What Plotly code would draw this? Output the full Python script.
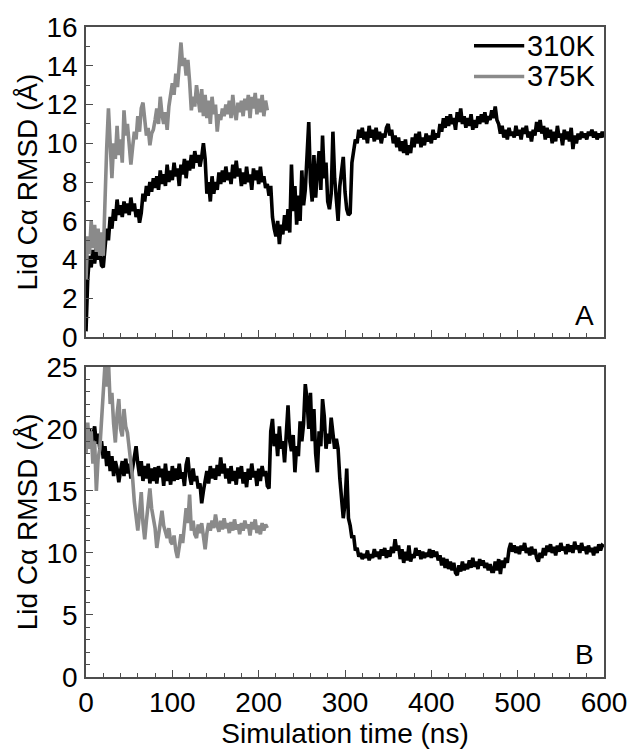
import plotly.graph_objects as go

STEP_NS = 2

rmsd_310_A = [
    0.3, 3.0, 4.2, 3.6, 4.5, 3.8, 4.6, 4.0, 4.4, 3.7,
    3.6, 4.8, 5.6, 5.0, 6.2, 5.6, 6.6, 6.0, 7.1, 6.3,
    6.8, 6.2, 7.0, 6.4, 6.9, 6.3, 7.2, 6.5, 6.9, 6.2,
    6.6, 5.9, 6.4, 7.4, 7.0, 7.8, 7.3, 8.0, 7.5, 8.2,
    7.7, 8.3, 7.6, 8.6, 7.9, 8.4, 7.8, 8.9, 8.0, 8.6,
    8.1, 9.0, 8.3, 8.7, 7.8, 8.9, 8.4, 9.2, 8.2, 9.1,
    8.6, 9.4, 8.7, 9.6, 9.0, 9.4, 8.8, 9.3, 10.0, 9.2,
    7.4, 8.0, 7.0, 8.3, 7.4, 8.0, 7.6, 8.5, 7.9, 8.6,
    8.0, 8.8, 8.1, 8.5, 7.9, 8.9, 8.2, 9.1, 8.3, 8.7,
    7.8, 8.5, 7.9, 8.8, 8.0, 8.4, 7.6, 8.7, 8.1, 8.6,
    7.9, 8.8, 8.0, 8.3, 7.7, 7.9, 7.3, 7.8, 6.2, 5.6,
    5.2, 6.0, 4.8, 5.8, 5.3, 6.3, 5.5, 6.6, 5.4, 8.9,
    6.5, 7.8, 5.8, 7.3, 6.0, 8.6, 6.8, 7.6, 9.0, 11.1,
    8.0, 7.0, 9.4, 7.2, 8.6, 9.6, 7.6, 10.4, 8.2, 9.0,
    7.0, 6.6, 7.4, 10.6, 8.2, 7.2, 6.0, 7.8, 8.4, 9.3,
    7.5, 6.6, 6.3, 6.4, 9.0, 9.8, 10.2, 10.0, 10.7, 10.3,
    10.8, 10.2, 10.6, 10.0, 10.9, 10.3, 10.7, 10.1, 10.8, 10.2,
    10.6, 10.0, 10.5, 10.3, 10.8, 11.0, 10.4, 10.7, 10.0, 10.4,
    9.8, 10.3, 9.6, 10.1, 9.5, 10.2, 9.4, 9.9, 9.5, 10.3,
    9.8, 10.5, 10.0, 10.6, 9.8, 10.3, 9.9, 10.5, 10.1, 10.4,
    10.0, 10.7, 10.2, 10.5, 10.3, 11.0, 10.6, 11.3, 10.8, 11.4,
    10.9, 11.5, 11.0, 11.3, 10.7, 11.6, 11.1, 11.8, 11.0, 11.4,
    10.8, 11.3, 10.9, 11.5, 10.7, 11.2, 10.8, 11.4, 11.0, 11.5,
    11.1, 11.6, 11.0, 11.4, 11.2, 11.7, 11.3, 11.9, 11.2, 11.0,
    10.5, 10.9, 10.3, 10.7, 10.2, 10.8, 10.4, 10.6, 10.3, 10.9,
    10.4, 10.7, 10.2, 10.8, 10.5, 10.9, 10.3, 10.6, 10.1, 10.7,
    10.4, 11.1, 10.6, 11.2, 10.5, 10.9, 10.2, 10.8, 10.3, 10.7,
    10.0, 10.6, 10.1, 10.9, 10.3, 10.5, 9.9, 10.7, 10.2, 10.6,
    10.1, 10.8, 9.7, 10.4, 10.0, 10.5, 10.2, 10.6, 10.3, 10.5,
    10.2, 10.6, 10.4, 10.7, 10.3, 10.6, 10.2, 10.5, 10.3, 10.6,
    10.3,
]

rmsd_375_A = [
    3.0, 5.2, 4.3, 6.0, 4.6, 5.8, 4.4, 5.6, 4.2, 5.4,
    4.2, 7.5, 9.8, 11.8, 9.5, 8.2, 10.0, 9.2, 10.9, 9.4,
    10.2, 9.0, 11.7, 10.4, 11.0, 9.8, 8.9, 9.8, 10.6, 10.2,
    11.4, 10.6, 11.8, 12.1, 11.0, 10.4, 10.8, 9.9, 10.5, 10.7,
    11.2, 11.8, 11.0, 12.4, 11.5, 11.0, 11.6, 10.7, 11.9, 12.6,
    13.1, 12.5, 13.6, 12.9, 14.2, 15.2, 14.0, 14.4, 13.5, 14.3,
    13.2, 11.7, 12.4, 11.9, 13.0, 12.2, 11.6, 12.8, 11.4, 12.5,
    11.3, 12.2, 11.0, 12.4, 11.5, 12.0, 10.6, 11.5, 11.2, 11.8,
    11.4, 12.0, 11.5, 12.2, 11.3, 12.5, 11.6, 11.2, 12.1, 11.6,
    12.2, 11.4, 12.3, 11.7, 12.5, 11.3, 12.4, 11.8, 12.6, 11.5,
    12.3, 11.6, 12.5, 11.4, 12.2, 11.7,
]

rmsd_310_B = [
    20.3, 19.2, 20.0, 18.6, 19.5, 20.2, 18.8, 19.6, 18.4, 19.0,
    17.6, 18.6, 17.0, 18.2, 16.6, 17.8, 16.2, 17.4, 16.8, 15.7,
    16.6, 17.4, 16.2, 17.6, 16.4, 17.2, 16.0, 17.0, 17.6, 18.6,
    17.2, 16.2, 17.4, 15.8, 17.0, 16.0, 17.2, 15.6, 16.8, 15.8,
    16.9, 15.6, 17.0, 16.1, 16.8, 15.4, 17.2, 15.8, 16.6, 15.5,
    17.0, 15.8, 16.8, 15.9, 17.2, 16.0, 16.5, 15.4, 17.1, 17.7,
    16.2, 15.5, 16.8, 15.8, 16.2, 15.2, 15.6, 14.0, 15.0, 16.0,
    16.6, 15.6, 17.0, 16.0, 16.8, 15.9, 17.1, 16.2, 17.7, 16.4,
    17.2, 16.0, 16.8, 15.6, 17.0, 15.8, 16.6, 15.5, 16.9, 16.0,
    17.0, 15.6, 16.5, 15.3, 16.8, 15.9, 17.2, 16.1, 16.6, 15.4,
    16.8, 15.8, 17.0, 16.2, 16.6, 15.4, 15.2, 19.8, 20.8, 18.6,
    19.6, 17.8, 20.2, 18.4, 19.0, 17.3, 20.0, 21.9, 19.0, 18.2,
    19.5, 16.5, 18.6, 17.8, 20.6, 19.0, 20.4, 23.6, 22.4, 20.0,
    22.9, 19.0, 21.6, 18.0, 16.5, 19.8, 18.6, 22.4, 21.0, 18.4,
    19.6, 18.8, 20.9, 19.4, 18.4, 19.2, 18.4, 16.0, 14.4, 12.8,
    14.0, 16.8, 12.8, 12.2, 11.2, 11.4, 10.2, 10.4, 9.7, 10.0,
    9.5, 9.9, 9.6, 10.2, 9.4, 9.9, 9.6, 10.3, 9.7, 10.1,
    9.5, 10.3, 9.8, 10.4, 9.6, 10.2, 9.7, 10.5, 10.0, 11.1,
    10.2, 10.6, 9.5, 10.3, 9.2, 10.1, 9.4, 10.6, 9.3, 9.9,
    9.6, 10.4, 9.8, 10.2, 9.5, 10.1, 9.6, 10.0, 9.7, 10.3,
    9.6, 10.2, 9.7, 10.1, 9.4, 9.8, 9.0, 9.6, 8.8, 9.5,
    8.7, 9.3, 8.6, 9.2, 8.4, 8.2, 9.0, 8.5, 9.3, 8.6,
    9.1, 8.7, 9.4, 8.8, 9.6, 8.9, 9.3, 8.7, 9.5, 9.0,
    9.4, 8.8, 9.2, 8.6, 9.1, 8.5, 8.5, 9.3, 8.6, 9.5,
    8.3, 9.4, 8.8, 9.6, 9.2, 10.3, 10.8, 10.1, 10.6, 10.0,
    10.5, 9.9, 10.6, 10.2, 10.8, 10.0, 10.4, 9.8, 10.5, 9.9,
    10.3, 9.6, 9.3, 10.0, 9.6, 10.4, 9.8, 10.6, 10.1, 10.7,
    10.0, 10.5, 9.8, 10.6, 10.1, 10.8, 10.2, 10.5, 9.9, 10.7,
    10.1, 10.6, 10.0, 10.9, 10.3, 10.6, 10.0, 10.8, 10.2, 10.5,
    9.9, 10.6, 10.1, 10.4, 9.8, 10.5, 10.0, 10.7, 10.2, 10.6,
    10.5,
]

rmsd_375_B = [
    18.0, 20.5, 18.4, 19.8, 17.2, 19.0, 15.0, 17.6, 18.4, 20.6,
    22.8, 25.2, 23.4, 25.5, 22.0, 22.9, 20.4, 18.9, 21.2, 22.4,
    20.0, 19.4, 21.6, 20.2, 19.7, 18.6, 17.6, 16.0, 14.1, 13.0,
    11.8, 13.2, 14.9, 12.4, 11.1, 12.6, 13.8, 15.2, 13.6, 12.8,
    12.0, 10.4, 11.6, 12.4, 13.4, 12.2, 11.6, 11.2, 12.0, 10.9,
    10.7, 11.4, 10.2, 9.6, 10.5, 11.5, 10.8, 12.2, 13.6, 12.4,
    14.7, 11.8, 12.6, 11.5, 11.2, 12.3, 11.6, 12.4, 11.0, 10.3,
    11.6, 12.4, 11.8, 12.6, 12.0, 13.1, 12.2, 11.7, 12.6, 11.9,
    12.8, 12.0, 12.4, 11.6, 12.5, 11.8, 12.7, 11.9, 12.3, 11.5,
    12.4, 11.8, 12.6, 12.0, 12.3, 11.4, 12.5, 11.9, 12.7, 11.6,
    12.2, 11.5, 12.4, 11.8, 12.3, 12.0,
]

series_names = ["310K", "375K"]
x_ticks = [0, 100, 200, 300, 400, 500, 600]
panel_labels = ["A", "B"]


def times(vals):
    return [STEP_NS * i for i in range(len(vals))]


# ---------------- figure ----------------
BLACK = "#000000"
GRAY = "#8a8a8a"
FRAME = "#4d4d4d"
FONT = "Liberation Sans, Arial, Helvetica, sans-serif"
FS = 28
LW = 3.6

fig = go.Figure()
fig.add_trace(go.Scatter(x=times(rmsd_310_A), y=rmsd_310_A, mode="lines",
                         line=dict(color=BLACK, width=LW), name=series_names[0],
                         showlegend=False, xaxis="x", yaxis="y"))
fig.add_trace(go.Scatter(x=times(rmsd_375_A), y=rmsd_375_A, mode="lines",
                         line=dict(color=GRAY, width=LW), name=series_names[1],
                         showlegend=False, xaxis="x", yaxis="y"))
fig.add_trace(go.Scatter(x=times(rmsd_310_B), y=rmsd_310_B, mode="lines",
                         line=dict(color=BLACK, width=LW), name=series_names[0],
                         showlegend=False, xaxis="x2", yaxis="y2"))
fig.add_trace(go.Scatter(x=times(rmsd_375_B), y=rmsd_375_B, mode="lines",
                         line=dict(color=GRAY, width=LW), name=series_names[1],
                         showlegend=False, xaxis="x2", yaxis="y2"))

H_PLOT = 750 - 23 - 69
split_lo = 314 / H_PLOT
split_hi = 344 / H_PLOT

common_x = dict(range=[0, 600], showgrid=False, zeroline=False, showline=True,
                linecolor=FRAME, linewidth=1.5, mirror=True,
                ticks="inside", ticklen=7, tickwidth=1.2, tickcolor=FRAME,
                tickvals=x_ticks,
                minor=dict(dtick=20, ticks="inside", ticklen=4, tickwidth=1, tickcolor=FRAME),
                tickfont=dict(family=FONT, size=FS, color="black"))
common_y = dict(showgrid=False, zeroline=False, showline=True,
                linecolor=FRAME, linewidth=1.5, mirror=True,
                ticks="inside", ticklen=7, tickwidth=1.2, tickcolor=FRAME,
                tickfont=dict(family=FONT, size=FS, color="black"),
                ticklabelstandoff=1,
                title=dict(text="Lid Cα RMSD (Å)", font=dict(family=FONT, size=FS, color="black"),
                           standoff=1))

# manual legend (top-right of panel A), positions in paper coordinates
legend_items = [(series_names[0], BLACK, 42), (series_names[1], GRAY, 73)]
PW, PH = 526.0, 658.0
shapes = []
annotations = []
for name, col, py in legend_items:
    yp = (681 - py) / PH
    shapes.append(dict(type="line", xref="paper", yref="paper",
                       x0=(480 - 86) / PW, x1=(531 - 86) / PW, y0=yp, y1=yp,
                       line=dict(color=col, width=3.5)))
    annotations.append(dict(text=name, xref="paper", yref="paper", x=(532 - 86) / PW, y=yp,
                            xanchor="left", yanchor="middle", showarrow=False,
                            font=dict(family=FONT, size=29, color="black")))

annotations += [
    dict(text=panel_labels[0], xref="x domain", yref="y domain", x=0.985, y=0.015,
         xanchor="right", yanchor="bottom", showarrow=False,
         font=dict(family=FONT, size=FS, color="black")),
    dict(text=panel_labels[1], xref="x2 domain", yref="y2 domain", x=0.985, y=0.015,
         xanchor="right", yanchor="bottom", showarrow=False,
         font=dict(family=FONT, size=FS, color="black")),
]

fig.update_layout(
    width=639, height=750,
    margin=dict(l=86, r=27, t=23, b=69),
    paper_bgcolor="white", plot_bgcolor="white",
    showlegend=False,
    xaxis=dict(common_x, anchor="y", showticklabels=False),
    yaxis=dict(common_y, domain=[split_hi, 1.0], anchor="x", range=[0, 16],
               tickvals=[0, 2, 4, 6, 8, 10, 12, 14, 16],
               minor=dict(dtick=1, ticks="inside", ticklen=4, tickwidth=1, tickcolor=FRAME)),
    xaxis2=dict(common_x, anchor="y2", showticklabels=True,
                title=dict(text="Simulation time (ns)", font=dict(family=FONT, size=FS, color="black"),
                           standoff=0)),
    yaxis2=dict(common_y, domain=[0.0, split_lo], anchor="x2", range=[0, 25],
                tickvals=[0, 5, 10, 15, 20, 25],
                minor=dict(dtick=1, ticks="inside", ticklen=4, tickwidth=1, tickcolor=FRAME)),
    shapes=shapes,
    annotations=annotations,
)

fig.write_html("out.html")
